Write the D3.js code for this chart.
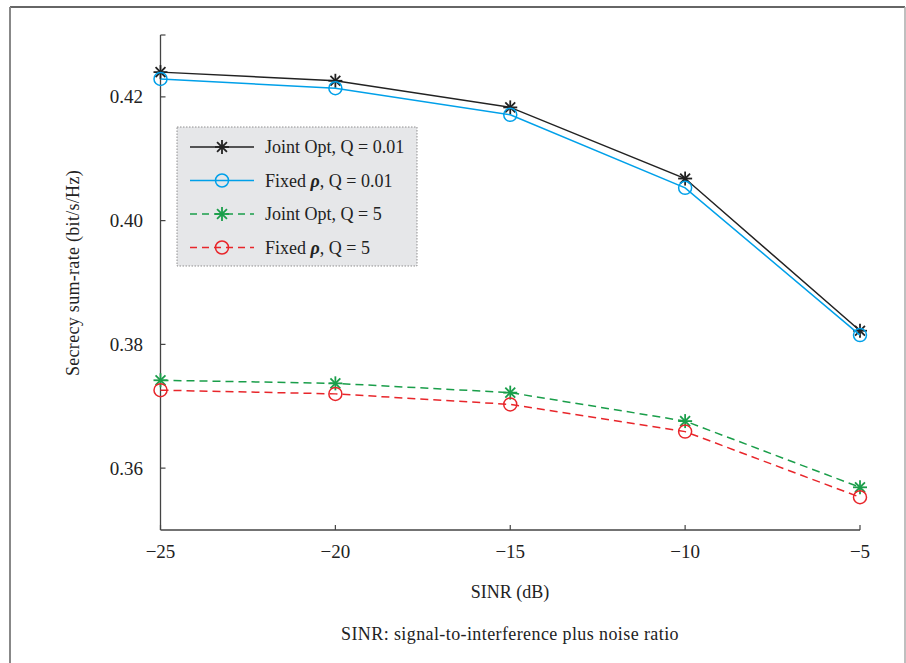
<!DOCTYPE html>
<html>
<head>
<meta charset="utf-8" />
<title>Secrecy sum-rate vs SINR</title>
<style>
  body { margin: 0; background: #fff; }
  svg text { font-family: "Liberation Serif", "DejaVu Serif", serif; fill: #222; }
</style>
</head>
<body>
<div id="chart"></div>
<script src="https://d3js.org/d3.v7.min.js"></script>
<script>
// data
var sinr = [-25, -20, -15, -10, -5];
var jointOpt001 = [0.4240, 0.4226, 0.4183, 0.4068, 0.3822];
var fixedRho001 = [0.4229, 0.4214, 0.4171, 0.4053, 0.3815];
var jointOpt5 = [0.3742, 0.3737, 0.3722, 0.3676, 0.3569];
var fixedRho5 = [0.3726, 0.3720, 0.3703, 0.3659, 0.3553];
var yTicks = [0.36, 0.38, 0.40, 0.42];
var xTicks = [-25, -20, -15, -10, -5];
var seriesNames = ["Joint Opt, Q = 0.01", "Fixed ρ, Q = 0.01", "Joint Opt, Q = 5", "Fixed ρ, Q = 5"];

var width = 906, height = 663;
var svg = d3.select("#chart").append("svg")
  .attr("width", width).attr("height", height)
  .attr("font-family", "Liberation Serif, serif");

// page frame
svg.append("line").attr("x1", 10).attr("y1", 7).attr("x2", 905).attr("y2", 7)
  .attr("stroke", "#333").attr("stroke-width", 1.5);
svg.append("line").attr("x1", 10).attr("y1", 7).attr("x2", 10).attr("y2", 663)
  .attr("stroke", "#888").attr("stroke-width", 2);
svg.append("line").attr("x1", 905).attr("y1", 7).attr("x2", 905).attr("y2", 663)
  .attr("stroke", "#aaa").attr("stroke-width", 1.5);

var x = d3.scaleLinear().domain([-25, -5]).range([160.5, 860]);
var y = d3.scaleLinear().domain([0.35, 0.43]).range([530, 35]);

var axisColor = "#444";

// axes lines
svg.append("line").attr("x1", x(-25)).attr("x2", x(-25)).attr("y1", y(0.35)).attr("y2", y(0.43))
  .attr("stroke", axisColor).attr("stroke-width", 1.3);
svg.append("line").attr("x1", x(-25)).attr("x2", x(-5)).attr("y1", y(0.35)).attr("y2", y(0.35))
  .attr("stroke", axisColor).attr("stroke-width", 1.3);

// y ticks (inward)
svg.selectAll(".ytick").data(yTicks.concat([0.43])).enter().append("line")
  .attr("x1", x(-25)).attr("x2", x(-25) + 5)
  .attr("y1", function(d){ return y(d); }).attr("y2", function(d){ return y(d); })
  .attr("stroke", axisColor).attr("stroke-width", 1.2);
svg.selectAll(".ylab").data(yTicks).enter().append("text")
  .attr("x", 143).attr("y", function(d){ return y(d) + 6.5; })
  .attr("text-anchor", "end").attr("font-size", 19)
  .text(function(d){ return d3.format(".2f")(d); });

// x ticks (inward)
svg.selectAll(".xtick").data(xTicks).enter().append("line")
  .attr("x1", function(d){ return x(d); }).attr("x2", function(d){ return x(d); })
  .attr("y1", y(0.35)).attr("y2", y(0.35) - 5)
  .attr("stroke", axisColor).attr("stroke-width", 1.2);
svg.selectAll(".xlab").data(xTicks).enter().append("text")
  .attr("x", function(d){ return x(d); }).attr("y", 558)
  .attr("text-anchor", "middle").attr("font-size", 19)
  .text(function(d){ return "\u2212" + Math.abs(d); });

// axis titles
svg.append("text").attr("x", 510).attr("y", 598).attr("text-anchor", "middle")
  .attr("font-size", 18).text("SINR (dB)");
svg.append("text").attr("transform", "translate(79,273) rotate(-90)")
  .attr("text-anchor", "middle").attr("font-size", 18).attr("letter-spacing", 0.3)
  .text("Secrecy sum-rate (bit/s/Hz)");
svg.append("text").attr("x", 510).attr("y", 640).attr("text-anchor", "middle")
  .attr("font-size", 18).attr("letter-spacing", 0.4)
  .text("SINR: signal-to-interference plus noise ratio");

var series = [
  { name: seriesNames[0], values: jointOpt001, color: "#222", dash: null, marker: "star" },
  { name: seriesNames[1], values: fixedRho001, color: "#00a0e9", dash: null, marker: "circle" },
  { name: seriesNames[2], values: jointOpt5, color: "#1a9e4a", dash: "8,5", marker: "star" },
  { name: seriesNames[3], values: fixedRho5, color: "#e8262b", dash: "8,5", marker: "circle" }
];

function drawMarker(g, type, cx, cy, color) {
  if (type === "circle") {
    g.append("circle").attr("cx", cx).attr("cy", cy).attr("r", 6.5)
      .attr("fill", "none").attr("stroke", color).attr("stroke-width", 1.5);
  } else {
    var r = 7;
    for (var i = 0; i < 4; i++) {
      var a = i * Math.PI / 4;
      g.append("line")
        .attr("x1", cx - r * Math.cos(a)).attr("y1", cy - r * Math.sin(a))
        .attr("x2", cx + r * Math.cos(a)).attr("y2", cy + r * Math.sin(a))
        .attr("stroke", color).attr("stroke-width", 1.8);
    }
  }
}

var line = d3.line()
  .x(function(d){ return x(d[0]); })
  .y(function(d){ return y(d[1]); });

series.forEach(function(s) {
  var pts = sinr.map(function(v, i){ return [v, s.values[i]]; });
  svg.append("path").datum(pts).attr("d", line)
    .attr("fill", "none").attr("stroke", s.color).attr("stroke-width", 1.5)
    .attr("stroke-dasharray", s.dash);
  var g = svg.append("g");
  pts.forEach(function(p){ drawMarker(g, s.marker, x(p[0]), y(p[1]), s.color); });
});

// legend
var lg = svg.append("g");
lg.append("rect").attr("x", 177).attr("y", 127).attr("width", 240).attr("height", 139)
  .attr("fill", "#e6e7e9").attr("stroke", "#777").attr("stroke-width", 0.8)
  .attr("stroke-dasharray", "1.5,1.5");
series.forEach(function(s, i) {
  var ly = 147 + i * 33.5;
  lg.append("line").attr("x1", 190).attr("x2", 254).attr("y1", ly).attr("y2", ly)
    .attr("stroke", s.color).attr("stroke-width", 1.5).attr("stroke-dasharray", s.dash ? "7,5" : null);
  drawMarker(lg, s.marker, 222, ly, s.color);
  var t = lg.append("text").attr("x", 265).attr("y", ly + 6).attr("font-size", 18);
  if (s.name.indexOf("ρ") >= 0) {
    var parts = s.name.split("ρ");
    t.append("tspan").text(parts[0]);
    t.append("tspan").attr("font-style", "italic").attr("font-weight", "bold").text("ρ");
    t.append("tspan").text(parts[1]);
  } else {
    t.text(s.name);
  }
});
</script>
</body>
</html>
